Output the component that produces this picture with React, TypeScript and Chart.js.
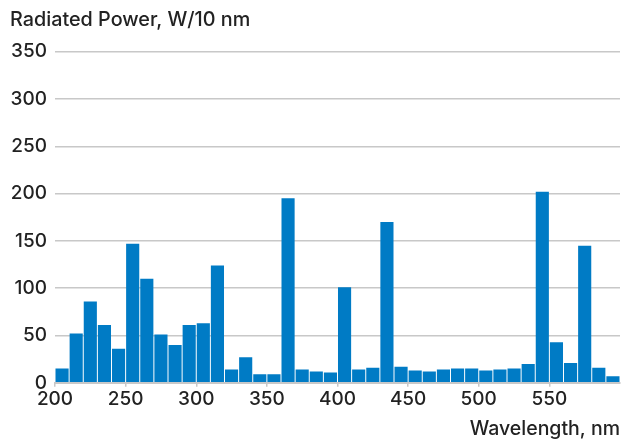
import React, { useEffect, useRef } from "react";
import { Chart, registerables } from "chart.js";

Chart.register(...registerables);

const wavelengths: number[] = [
  200, 210, 220, 230, 240, 250, 260, 270, 280, 290,
  300, 310, 320, 330, 340, 350, 360, 370, 380, 390,
  400, 410, 420, 430, 440, 450, 460, 470, 480, 490,
  500, 510, 520, 530, 540, 550, 560, 570, 580, 590,
];
const power: number[] = [
  15, 52, 86, 61, 36, 147, 110, 51, 40, 61,
  63, 124, 14, 27, 9, 9, 195, 14, 12, 11,
  101, 14, 16, 170, 17, 13, 12, 14, 15, 15,
  13, 14, 15, 20, 202, 43, 21, 145, 16, 7,
];
const xTicks: number[] = [200, 250, 300, 350, 400, 450, 500, 550];
const yTicks: number[] = [0, 50, 100, 150, 200, 250, 300, 350];
const binWidth = 10;

const FONT = "Inter, 'Noto Sans', sans-serif";

export default function App() {
  const ref = useRef<HTMLCanvasElement | null>(null);

  useEffect(() => {
    document.body.style.margin = "0";
    if (!ref.current) return;
    const chart = new Chart(ref.current, {
      type: "bar",
      data: {
        datasets: [
          {
            data: wavelengths.map((w, i) => ({ x: w + binWidth / 2, y: power[i] })),
            backgroundColor: "#007BC5",
            borderWidth: 0,
            barPercentage: 0.93,
            categoryPercentage: 1,
          },
        ],
      },
      options: {
        animation: false,
        responsive: false,
        maintainAspectRatio: false,
        layout: { padding: { left: 10, right: 3, top: 0, bottom: 0 } },
        plugins: {
          legend: { display: false },
          tooltip: { enabled: false },
          title: {
            display: true,
            text: "Radiated Power, W/10 nm",
            align: "start",
            color: "#222",
            font: { family: FONT, size: 19.8, weight: "500" },
            padding: { top: 8, bottom: 20 },
          },
        },
        scales: {
          x: {
            type: "linear",
            offset: false,
            min: wavelengths[0],
            max: wavelengths[wavelengths.length - 1] + binWidth,
            afterBuildTicks: (scale: any) => {
              scale.ticks = xTicks.map((v) => ({ value: v }));
            },
            ticks: {
              color: "#222",
              font: { family: FONT, size: 19, weight: "500" },
              padding: 1,
              maxRotation: 0,
              autoSkip: false,
            },
            grid: {
              offset: false,
              drawOnChartArea: false,
              drawTicks: true,
              tickLength: 4,
              color: "#c8c8c8",
              lineWidth: 1.5,
            },
            border: { display: true, color: "#c8c8c8", width: 2 },
            title: {
              display: true,
              text: "Wavelength, nm",
              align: "end",
              color: "#222",
              font: { family: FONT, size: 19.5, weight: "500" },
              padding: { top: 6, bottom: -1 },
            },
          },
          y: {
            min: 0,
            max: 350,
            afterBuildTicks: (scale: any) => {
              scale.ticks = yTicks.map((v) => ({ value: v }));
            },
            afterFit: (scale: any) => {
              scale.width = 45;
            },
            ticks: {
              color: "#222",
              font: { family: FONT, size: 19, weight: "500" },
              padding: 8,
            },
            grid: {
              color: "#c8c8c8",
              lineWidth: 1.5,
              drawTicks: false,
            },
            border: { display: false },
          },
        },
      },
    });
    return () => chart.destroy();
  }, []);

  return <canvas ref={ref} width={623} height={440} style={{ display: "block" }} />;
}
